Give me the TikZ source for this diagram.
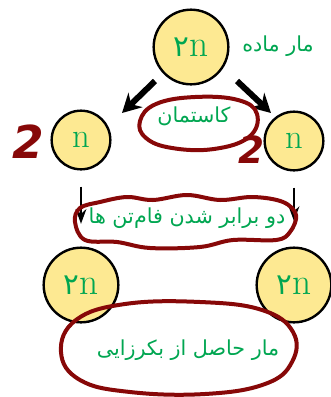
\documentclass[tikz,border=0pt]{standalone}
\usepackage{fontspec}
\usetikzlibrary{arrows.meta, positioning}
\newfontfamily\arabicfont[Script=Arabic]{DejaVu Sans}
\newfontfamily\handfont{DejaVu Sans}
\TeXXeTstate=1
\definecolor{cellyellow}{RGB}{253,233,146}
\definecolor{labelgreen}{RGB}{0,166,81}
\definecolor{penred}{RGB}{135,8,8}

\begin{document}
\begin{tikzpicture}[
  x=0.75pt, y=-0.75pt,
  cell/.style={circle, draw=black, line width=1.8pt, fill=cellyellow,
    inner sep=0pt, text=labelgreen, font=\fontsize{28}{28}\selectfont},
  bigcell/.style={cell, minimum size=56pt},
  smallcell/.style={cell, minimum size=44pt, font=\fontsize{26}{26}\selectfont},
  caption/.style={text=labelgreen, font=\arabicfont\fontsize{15.5}{20}\selectfont},
  ring/.style={draw=penred, line width=3pt, line join=round},
  count/.style={text=penred, font=\handfont\bfseries\itshape\fontsize{34}{34}\selectfont},
  fatarrow/.style={-{Stealth[length=14pt, width=15pt]}, line width=4.5pt},
  thinarrow/.style={-{Stealth[length=11pt, width=8pt]}, line width=2.2pt}
]
  \useasboundingbox (0,0) rectangle (330,397);

  % cells
  \node[bigcell] (mother) at (191,47) {{\arabicfont\fontsize{22}{22}\selectfont ۲}n};
  \node[smallcell] (leftn) at (81,140) {n};
  \node[smallcell] (rightn) at (294,141) {n};
  \node[bigcell] (leftd) at (81,285) {{\arabicfont\fontsize{22}{22}\selectfont ۲}n};
  \node[bigcell] (rightd) at (294,285) {{\arabicfont\fontsize{22}{22}\selectfont ۲}n};

  % captions
  \node[caption] (female) at (278,46) {\beginR مار ماده\endR};
  \node[caption] (meiosis) at (194,116) {\beginR کاستمان\endR};
  \node[caption] (double) at (187,218) {\beginR دو برابر شدن فام‌تن ها\endR};
  \node[caption] (result) at (188,350) {\beginR مار حاصل از بکرزایی\endR};

  % handwritten counts
  \node[count] (countl) at (28,142) {2};
  \node[count, font=\handfont\bfseries\itshape\fontsize{28}{28}\selectfont]
    (countr) at (251,150) {2};

  % arrows
  \coordinate (dl0) at (155,81);
  \coordinate (dl1) at (122,113);
  \coordinate (dr0) at (237,81);
  \coordinate (dr1) at (271,113);
  \draw[fatarrow] (dl0) -- (dl1);
  \draw[fatarrow] (dr0) -- (dr1);
  \draw[thinarrow, shorten <=12pt, shorten >=17pt] (leftn) -- (leftd);
  \draw[thinarrow, shorten <=12pt, shorten >=19pt] (rightn) -- (rightd);

  % red pen marks
  \draw[ring] plot[smooth cycle, tension=0.7] coordinates {
    (140,121) (156,104) (195,97) (238,100) (257,114) (249,137)
    (214,149) (172,148) (146,138)};
  \draw[ring] plot[smooth cycle, tension=0.6] coordinates {
    (75,222) (80,208) (100,202) (127,197) (153,200) (187,195) (220,200)
    (253,197) (283,202) (296,215) (290,232) (276,240) (233,240)
    (200,247) (150,248) (117,242) (85,240)};
  \draw[ring] plot[smooth cycle, tension=0.7] coordinates {
    (61,352) (76,320) (125,304) (200,302) (262,310) (293,332)
    (292,362) (265,384) (205,394) (130,392) (80,380)};
\end{tikzpicture}
\end{document}
